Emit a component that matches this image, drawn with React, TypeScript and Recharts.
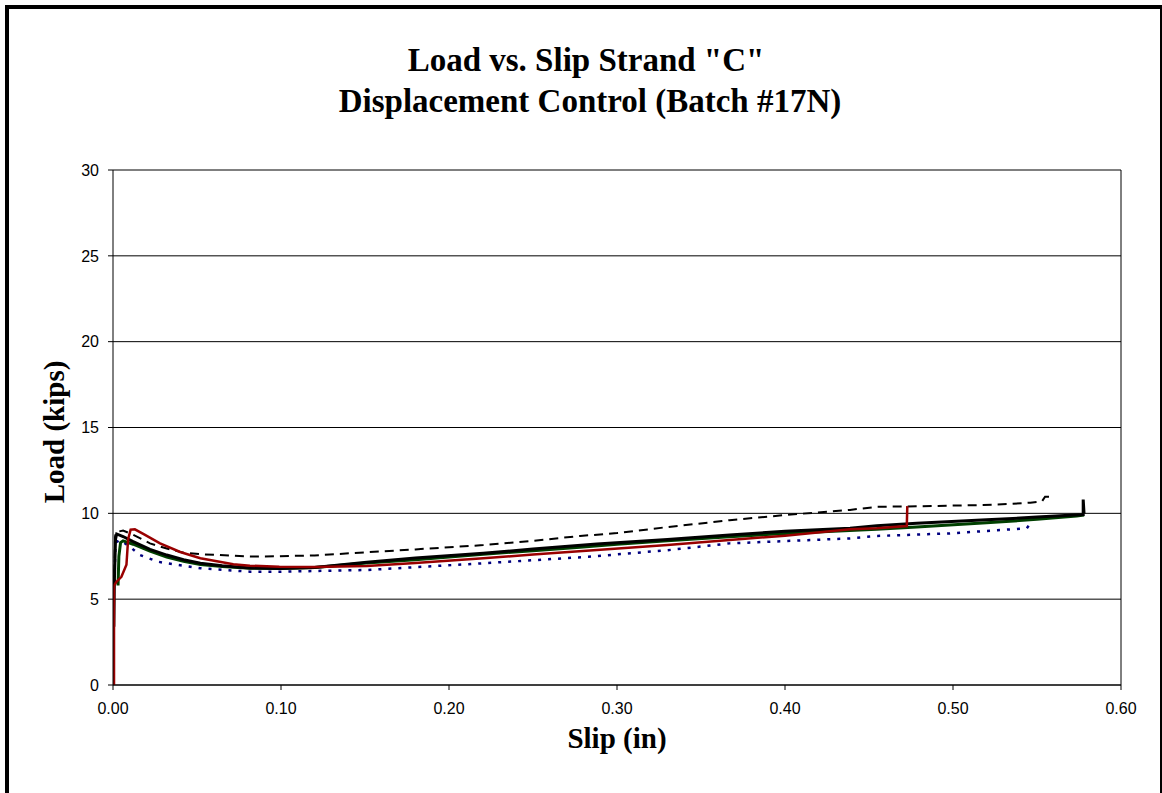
import { CartesianGrid, Line, LineChart, ReferenceLine, XAxis, YAxis } from "recharts";

type Pt = [number, number];

// slip (in), load (kips)
const xTicks = [0, 0.1, 0.2, 0.3, 0.4, 0.5, 0.6];
const yTicks = [0, 5, 10, 15, 20, 25, 30];

const blackDashed: Pt[] = [
  [0.0008, 6.5], [0.0012, 8.6], [0.0016, 8.9], [0.006, 9.0], [0.012, 8.75], [0.022, 8.25],
  [0.032, 7.95], [0.042, 7.71], [0.052, 7.62], [0.062, 7.58], [0.0815, 7.48],
  [0.099, 7.5], [0.12, 7.55], [0.151, 7.73], [0.18, 7.9], [0.2204, 8.15],
  [0.25, 8.4], [0.278, 8.68], [0.3, 8.85], [0.33, 9.2], [0.367, 9.6],
  [0.4, 9.9], [0.4387, 10.2], [0.4546, 10.38], [0.472, 10.4], [0.5, 10.45],
  [0.518, 10.48], [0.535, 10.55], [0.546, 10.62], [0.553, 10.7], [0.5548, 10.97],
  [0.5597, 10.95],
];

const blackSolid: Pt[] = [
  [0.0005, 3.4], [0.0008, 6.0], [0.0015, 8.5], [0.0022, 8.8], [0.006, 8.65],
  [0.012, 8.35], [0.022, 7.9], [0.032, 7.57], [0.042, 7.3], [0.052, 7.09],
  [0.065, 6.95], [0.0815, 6.82], [0.099, 6.79], [0.12, 6.85], [0.151, 7.15],
  [0.18, 7.4], [0.2204, 7.67], [0.25, 7.92], [0.288, 8.21], [0.33, 8.48],
  [0.367, 8.74], [0.4, 8.95], [0.4387, 9.13], [0.4546, 9.28], [0.4784, 9.42],
  [0.52, 9.62], [0.55, 9.78], [0.5775, 9.93], [0.5775, 10.8], [0.578, 9.98],
];

const greenSolid: Pt[] = [
  [0.003, 5.8], [0.0035, 7.5], [0.0045, 8.3], [0.006, 8.4], [0.012, 8.2],
  [0.022, 7.8], [0.032, 7.45], [0.042, 7.2], [0.052, 7.02], [0.065, 6.9],
  [0.0815, 6.8], [0.099, 6.78], [0.12, 6.85], [0.151, 7.1], [0.18, 7.3],
  [0.2204, 7.62], [0.25, 7.82], [0.278, 8.02], [0.3, 8.2], [0.33, 8.4],
  [0.367, 8.64], [0.4, 8.82], [0.4546, 9.07], [0.4784, 9.2], [0.52, 9.45],
  [0.55, 9.65], [0.5736, 9.84], [0.578, 9.9],
];

const redSolid: Pt[] = [
  [0.0006, 0], [0.0006, 5.8], [0.002, 6.0], [0.005, 6.3], [0.008, 7.0],
  [0.009, 8.5], [0.0105, 9.05], [0.013, 9.07], [0.018, 8.8], [0.028, 8.25],
  [0.04, 7.75], [0.052, 7.38], [0.0716, 7.03], [0.0815, 6.95], [0.099, 6.89],
  [0.12, 6.88], [0.151, 6.93], [0.18, 7.1], [0.2204, 7.38], [0.25, 7.6],
  [0.288, 7.86], [0.33, 8.15], [0.367, 8.45], [0.4, 8.7], [0.4387, 9.07],
  [0.4546, 9.13], [0.4725, 9.26], [0.4728, 10.42],
];

const blueDotted: Pt[] = [
  [0.0008, 6.0], [0.0015, 8.3], [0.0042, 8.45], [0.01, 8.06], [0.016, 7.57],
  [0.027, 7.18], [0.032, 7.09], [0.052, 6.8], [0.0815, 6.6], [0.099, 6.6],
  [0.151, 6.7], [0.2204, 7.09], [0.283, 7.47], [0.33, 7.85], [0.367, 8.25],
  [0.4387, 8.54], [0.4546, 8.68], [0.498, 8.83], [0.5439, 9.13], [0.5458, 9.38],
];

const rows = (pts: Pt[]) => pts.map(([x, y]) => ({ x, y }));

const tickFont = { fill: "#000", fontSize: 16, fontFamily: "'Liberation Sans', Arial, sans-serif" };
const serif = "'Liberation Serif', 'Times New Roman', serif";

export default function App() {
  return (
    <div
      style={{
        position: "absolute",
        left: 0,
        top: 0,
        width: 1162,
        height: 793,
        overflow: "hidden",
        background: "#fff",
      }}
    >
      <div
        style={{
          position: "absolute",
          left: 5,
          top: 5,
          width: 1159,
          height: 820,
          boxSizing: "border-box",
          border: "4px solid #000",
        }}
      />
      <div style={{ position: "absolute", left: 0, top: 0 }}>
        <LineChart
          width={1162}
          height={793}
          margin={{ top: 170, right: 41, bottom: 78, left: 53 }}
        >
          <CartesianGrid vertical={false} stroke="#000" strokeWidth={1} />
          <XAxis
            type="number"
            dataKey="x"
            domain={[0, 0.6]}
            ticks={xTicks}
            allowDataOverflow
            height={30}
            tickSize={5}
            tickMargin={13}
            tick={tickFont}
            stroke="#000"
            tickFormatter={(v) => Number(v).toFixed(2)}
          />
          <YAxis
            type="number"
            domain={[0, 30]}
            ticks={yTicks}
            width={60}
            tickSize={5}
            tickMargin={9}
            tick={tickFont}
            stroke="#000"
          />
          <ReferenceLine x={0.6} stroke="#000" />
          <Line data={rows(blueDotted)} dataKey="y" type="linear" stroke="#000080" strokeWidth={2.5} strokeDasharray="3 7" dot={false} isAnimationActive={false} />
          <Line data={rows(blackDashed)} dataKey="y" type="linear" stroke="#000" strokeWidth={2} strokeDasharray="9 6" dot={false} isAnimationActive={false} />
          <Line data={rows(greenSolid)} dataKey="y" type="linear" stroke="#004000" strokeWidth={3} dot={false} isAnimationActive={false} />
          <Line data={rows(blackSolid)} dataKey="y" type="linear" stroke="#000" strokeWidth={3} dot={false} isAnimationActive={false} />
          <Line data={rows(redSolid)} dataKey="y" type="linear" stroke="#990000" strokeWidth={2.5} dot={false} isAnimationActive={false} />
        </LineChart>
      </div>
      <svg
        width={1162}
        height={793}
        style={{ position: "absolute", left: 0, top: 0, pointerEvents: "none" }}
      >
        <g fontFamily={serif} fontWeight="bold" fill="#000">
          <text x={586} y={71} fontSize={33} textAnchor="middle">
            Load vs. Slip Strand "C"
          </text>
          <text x={590} y={112} fontSize={33} textAnchor="middle">
            Displacement Control (Batch #17N)
          </text>
          <text x={617} y={748} fontSize={29} textAnchor="middle">
            Slip (in)
          </text>
          <text x={64} y={432} fontSize={29} textAnchor="middle" transform="rotate(-90 64 432)">
            Load (kips)
          </text>
        </g>
      </svg>
    </div>
  );
}
